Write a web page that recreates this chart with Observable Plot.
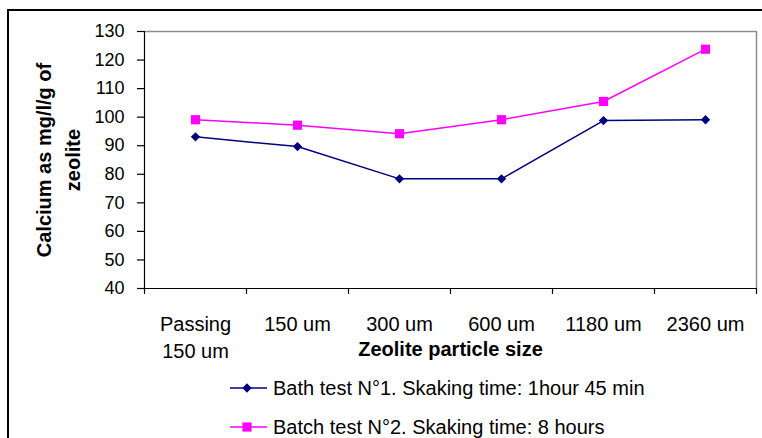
<!DOCTYPE html>
<html>
<head>
<meta charset="utf-8">
<script src="https://cdn.jsdelivr.net/npm/d3@7"></script>
<script src="https://cdn.jsdelivr.net/npm/@observablehq/plot@0.6"></script>
<style>
  html, body { margin: 0; padding: 0; background: #fff; width: 762px; height: 438px; overflow: hidden; position: relative; font-family: Arial, "Liberation Sans", sans-serif; }
  #frame { position: absolute; left: 7px; top: 9px; width: 800px; height: 500px; border-top: 2px solid #000; border-left: 2px solid #000; }
  #chart { position: absolute; left: 0; top: 0; }
  .leg { position: absolute; left: 229px; height: 24px; display: flex; align-items: center; font-size: 20px; color: #000; white-space: nowrap; }
  .leg svg { margin-right: 6px; }
</style>
</head>
<body>
<div id="frame"></div>
<div id="chart"></div>
<div id="legend"></div>
<script>
const categories = ["Passing\n150 um", "150 um", "300 um", "600 um", "1180 um", "2360 um"];
const test1 = [93.1, 89.7, 78.4, 78.4, 98.8, 99.1];
const test2 = [99.1, 97.2, 94.2, 99.1, 105.5, 123.8];
const yTicks = [40, 50, 60, 70, 80, 90, 100, 110, 120, 130];
const seriesNames = ["Bath test N°1. Skaking time: 1hour 45 min", "Batch test N°2. Skaking time: 8 hours"];
const colors = ["#000080", "#FF00FF"];
const symbols = ["diamond2", "square"];
const yTitle = "Calcium as mg/l/g of\nzeolite";
const xTitle = "Zeolite particle size";

const rows1 = test1.map((v, i) => ({i, v}));
const rows2 = test2.map((v, i) => ({i, v}));
const xb = d3.range(categories.length + 1);

const chart = Plot.plot({
  width: 762, height: 370,
  marginLeft: 144, marginRight: 6, marginTop: 31, marginBottom: 82,
  x: {domain: [0, categories.length], axis: null},
  y: {domain: [40, 130], axis: null},
  style: {background: "transparent", fontFamily: "Arial, 'Liberation Sans', sans-serif", color: "#000"},
  marks: [
    Plot.ruleY([130], {stroke: "#8c8c8c", strokeWidth: 1.5}),
    Plot.ruleX([categories.length], {stroke: "#8c8c8c", strokeWidth: 1.5}),
    Plot.ruleX([0], {stroke: "#000", strokeWidth: 1.2}),
    Plot.ruleY([40], {stroke: "#000", strokeWidth: 1.2}),
    Plot.axisY({ticks: yTicks, tickSize: 7, tickPadding: 13, fontSize: 18, label: null, strokeWidth: 1.2}),
    Plot.axisX({ticks: xb, tickSize: 6, tickFormat: () => "", label: null, strokeWidth: 1.2}),
    Plot.text(categories, {x: (d, i) => i + 0.5, frameAnchor: "bottom", lineAnchor: "top", dy: 23, lineHeight: 1.35, fontSize: 20}),
    Plot.line(rows1, {x: d => d.i + 0.5, y: "v", stroke: colors[0], strokeWidth: 1.5}),
    Plot.line(rows2, {x: d => d.i + 0.5, y: "v", stroke: colors[1], strokeWidth: 1.5}),
    Plot.dot(rows1, {x: d => d.i + 0.5, y: "v", symbol: symbols[0], r: 4.2, fill: colors[0], stroke: "none"}),
    Plot.dot(rows2, {x: d => d.i + 0.5, y: "v", symbol: symbols[1], r: 5.2, fill: colors[1], stroke: "none"}),
    Plot.text([yTitle], {frameAnchor: "left", textAnchor: "middle", rotate: -90, dx: -88, fontSize: 20, fontWeight: "bold", lineHeight: 1.45}),
    Plot.text([xTitle], {frameAnchor: "bottom", lineAnchor: "top", dy: 53, fontSize: 20, fontWeight: "bold"})
  ]
});
document.getElementById("chart").appendChild(chart);

// legend
const legTops = [376, 415];
const legend = d3.select("#legend");
seriesNames.forEach((name, k) => {
  const item = legend.append("div").attr("class", "leg").style("top", legTops[k] + "px");
  const svg = item.append("svg").attr("width", 38).attr("height", 24);
  svg.append("line").attr("x1", 1).attr("x2", 38).attr("y1", 12).attr("y2", 12).attr("stroke", colors[k]).attr("stroke-width", 1.5);
  const sym = k === 0 ? d3.symbolDiamond2 : d3.symbolSquare;
  const size = k === 0 ? Math.PI * 4.2 * 4.2 : Math.PI * 5.2 * 5.2;
  svg.append("path").attr("transform", "translate(18,12)").attr("d", d3.symbol(sym, size)()).attr("fill", colors[k]);
  item.append("span").text(name);
});
</script>
</body>
</html>
